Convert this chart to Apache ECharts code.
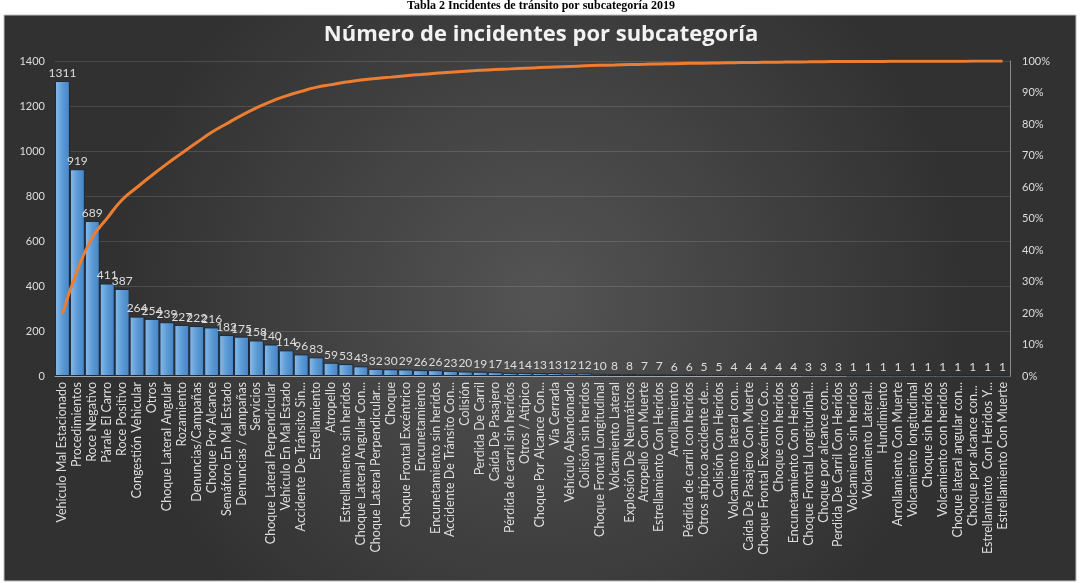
<!DOCTYPE html>
<html>
<head>
<meta charset="utf-8">
<title>Número de incidentes por subcategoría</title>
<script src="https://cdn.jsdelivr.net/npm/echarts@6/dist/echarts.min.js"></script>
<style>
    html, body { margin: 0; padding: 0; background: #fff; }
    .wrap_echarts { width: 1082px; height: 583px; }
</style>
</head>
<body>
<div class="wrap_echarts"></div>
<script>
// subcategorías (eje x)
let categorias = [
    "Vehículo Mal Estacionado", "Procedimientos", "Roce Negativo", "Párale El Carro", "Roce Positivo",
    "Congestión Vehicular", "Otros", "Choque Lateral Angular", "Rozamiento", "Denuncias/Campañas",
    "Choque Por Alcance", "Semáforo En Mal Estado", "Denuncias / campañas", "Servicios", "Choque Lateral Perpendicular",
    "Vehículo En Mal Estado", "Accidente De Tránsito Sin...", "Estrellamiento", "Atropello", "Estrellamiento sin heridos",
    "Choque Lateral Angular Con...", "Choque Lateral Perpendicular...", "Choque", "Choque Frontal Excéntrico", "Encunetamiento",
    "Encunetamiento sin heridos", "Accidente De Tránsito Con...", "Colisión", "Perdida De Carril", "Caída De Pasajero",
    "Pérdida de carril sin heridos", "Otros / Atípico", "Choque Por Alcance Con...", "Vía Cerrada", "Vehículo Abandonado",
    "Colisión sin heridos", "Choque Frontal Longitudinal", "Volcamiento Lateral", "Explosión De Neumáticos", "Atropello Con Muerte",
    "Estrellamiento Con Heridos", "Arrollamiento", "Pérdida de carril con heridos", "Otros atípico accidente de...", "Colisión Con Heridos",
    "Volcamiento lateral con...", "Caída De Pasajero Con Muerte", "Choque Frontal Excéntrico Co...", "Choque con heridos", "Encunetamiento Con Heridos",
    "Choque Frontal Longitudinal...", "Choque por alcance con...", "Perdida De Carril Con Heridos", "Volcamiento sin heridos", "Volcamiento Lateral...",
    "Hundimiento", "Arrollamiento Con Muerte", "Volcamiento longitudinal", "Choque sin heridos", "Volcamiento con heridos",
    "Choque lateral angular con...", "Choque por alcance con... ", "Estrellamiento  Con Heridos Y...", "Estrellamiento Con Muerte"
];

// número de incidentes
let incidentes = [
    1311, 919, 689, 411, 387,
    264, 254, 239, 227, 222,
    216, 182, 175, 158, 140,
    114, 96, 83, 59, 53,
    43, 32, 30, 29, 26,
    26, 23, 20, 19, 17,
    14, 14, 13, 13, 12,
    12, 10, 8, 8, 7,
    7, 6, 6, 5, 5,
    4, 4, 4, 4, 4,
    3, 3, 3, 1, 1,
    1, 1, 1, 1, 1,
    1, 1, 1, 1
];

// ejes
let ejeIzqMax = 1400;
let ejeIzqPaso = 200;
let ejeDerMax = 100;
let ejeDerPaso = 10;

window.onload = function () {

    // curva de Pareto: porcentaje acumulado de las mismas barras
    let total = 0;
    for (let v of incidentes) {
        total += v;
    }
    let acumulado = [];
    let suma = 0;
    for (let i = 0; i < incidentes.length; i++) {
        suma += incidentes[i];
        acumulado.push(+(suma / total * 100).toFixed(2));
    }

    let myChart = echarts.init(document.getElementsByClassName('wrap_echarts')[0]);

    let fuente = 'Lato';
    let gris = '#dedede';

    option = {
        backgroundColor: '#ffffff',
        animation: false,
        graphic: [
            {
                // marco oscuro del gráfico
                type: 'rect',
                z: -10,
                shape: { x: 4, y: 15, width: 1072, height: 566 },
                style: {
                    fill: {
                        type: 'radial', x: 0.5, y: 0.5, r: 0.75,
                        colorStops: [
                            { offset: 0, color: '#545454' },
                            { offset: 1, color: '#313131' }
                        ]
                    },
                    stroke: '#bfbfbf',
                    lineWidth: 1
                }
            },
            {
                type: 'text',
                left: 'center',
                top: 0,
                style: {
                    text: 'Tabla 2 Incidentes de tránsito por subcategoría 2019',
                    font: 'bold 12px "Liberation Serif"',
                    fill: '#000'
                }
            }
        ],
        title: {
            text: 'Número de incidentes por subcategoría',
            left: 'center',
            top: 19,
            textStyle: {
                color: '#f2f2f2',
                fontFamily: 'Open Sans',
                fontWeight: 'bold',
                fontSize: 22
            }
        },
        grid: {
            left: 55,
            right: 72,
            top: 61,
            bottom: 207
        },
        xAxis: {
            type: 'category',
            data: categorias,
            axisLine: { show: true, lineStyle: { color: '#a6a6a6', width: 1 } },
            axisTick: { show: false },
            axisLabel: {
                interval: 0,
                rotate: 90,
                color: gris,
                fontFamily: fuente,
                fontSize: 12.5,
                margin: 6
            }
        },
        yAxis: [
            {
                type: 'value',
                min: 0,
                max: ejeIzqMax,
                interval: ejeIzqPaso,
                axisLine: { show: false },
                axisTick: { show: false },
                splitLine: { lineStyle: { color: 'rgba(255,255,255,0.13)', width: 1 } },
                axisLabel: {
                    color: gris, fontFamily: fuente, fontSize: 11, margin: 10,
                    formatter: function (v) { return String(v); }
                }
            },
            {
                type: 'value',
                min: 0,
                max: ejeDerMax,
                interval: ejeDerPaso,
                position: 'right',
                axisLine: { show: true, lineStyle: { color: '#8c8c8c' } },
                axisTick: { show: false },
                splitLine: { show: false },
                axisLabel: { color: gris, fontFamily: fuente, fontSize: 11, margin: 12, formatter: '{value}%' }
            }
        ],
        series: [
            {
                name: 'Incidentes',
                type: 'bar',
                data: incidentes,
                barCategoryGap: '0%',
                itemStyle: {
                    color: {
                        type: 'linear', x: 0, y: 0, x2: 1, y2: 0,
                        colorStops: [
                            { offset: 0, color: '#8cbcea' },
                            { offset: 0.5, color: '#5b9bd5' },
                            { offset: 1, color: '#4682c4' }
                        ]
                    },
                    borderColor: '#1c2a3a',
                    borderWidth: 1
                },
                label: {
                    show: true,
                    position: 'top',
                    distance: 2,
                    color: gris,
                    fontFamily: fuente,
                    fontSize: 12
                }
            },
            {
                name: 'Acumulado',
                type: 'line',
                yAxisIndex: 1,
                data: acumulado,
                smooth: true,
                symbol: 'none',
                z: 5,
                lineStyle: { color: '#ed7d31', width: 3 }
            }
        ]
    };

    myChart.setOption(option);
}
</script>
</body>
</html>
